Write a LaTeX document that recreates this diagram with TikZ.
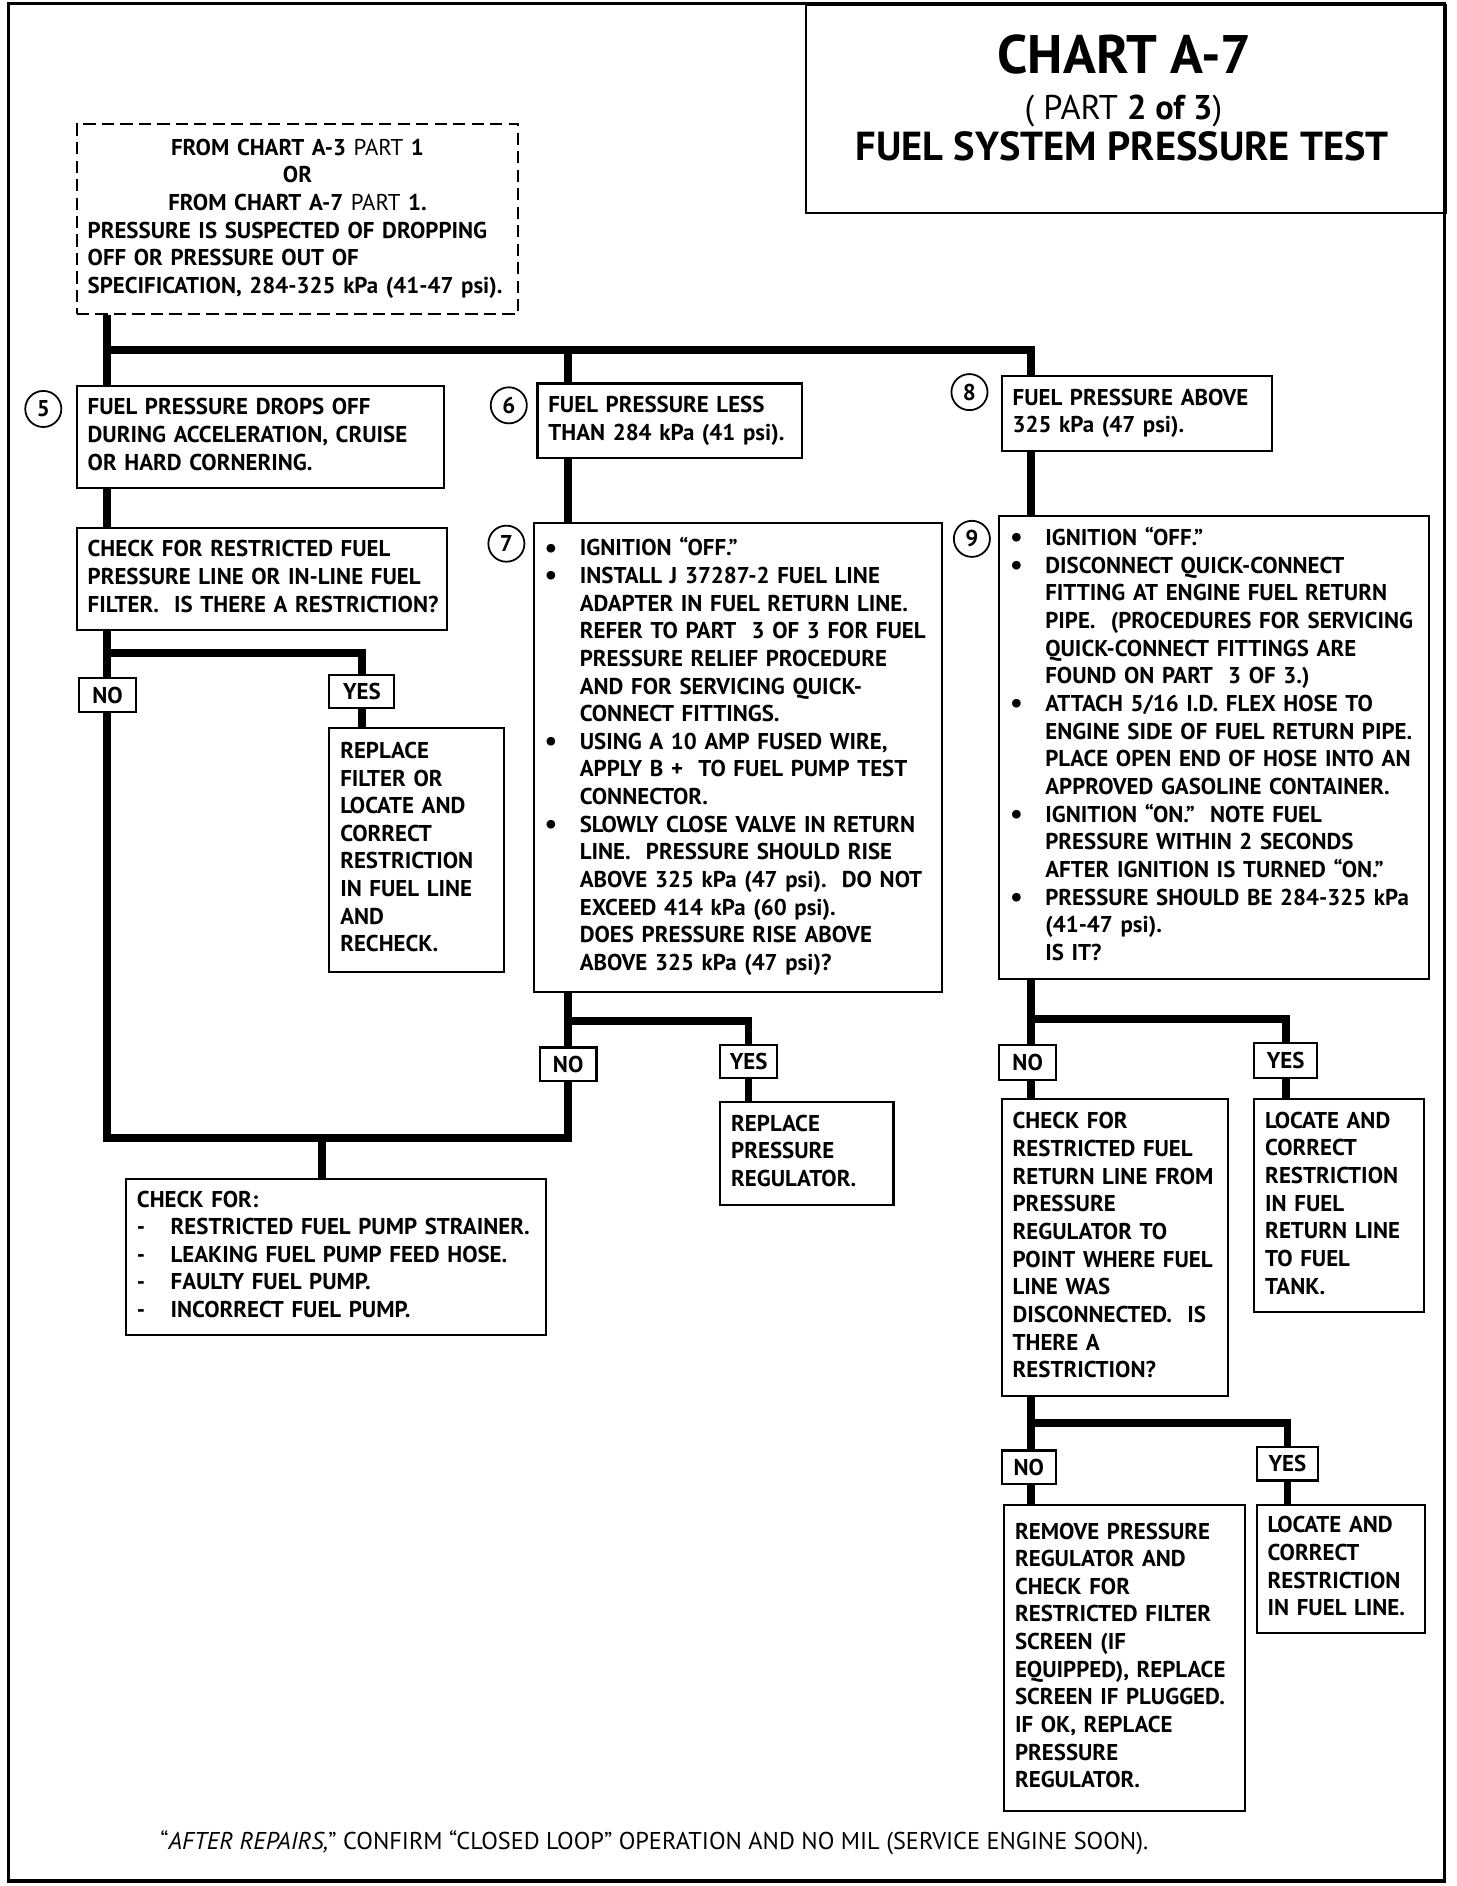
\documentclass[tikz,border=0pt]{standalone}
\usepackage{fontspec}
\setmainfont{PT Sans}

\newcommand{\boxfont}{\fontsize{13}{15.7}\selectfont\bfseries}
\newcommand{\boxlines}[1]{\begin{tabular}{@{}l@{}}#1\end{tabular}}
\newcommand{\bul}{\makebox[0.7cm][l]{\raisebox{-0.8pt}{\fontsize{16}{0}\selectfont •}}}
\newcommand{\bgap}{\hspace*{0.7cm}}
\newcommand{\dsh}{\makebox[0.672cm][l]{-}}

\begin{document}
\begin{tikzpicture}[
  x=0.024cm, y=-0.024cm,
  box/.style={draw, line width=1.2pt, anchor=north west, inner xsep=0.216cm, inner ysep=0pt, align=left, font=\boxfont},
  startbox/.style={box, dash pattern=on 7pt off 3.5pt},
  ans/.style={draw, line width=1.2pt, anchor=north west, inner sep=0pt, minimum width=1.128cm, minimum height=0.672cm, font=\boxfont},
  num/.style={draw, circle, line width=1pt, minimum size=0.72cm, inner sep=0pt, font=\boxfont},
  flow/.style={line width=4.4pt, line join=miter}
]
  \useasboundingbox (0,0) rectangle (1211,1568);
  \draw[line width=2pt] (7,3) rectangle (1201,1564);

  \node[draw, line width=1.2pt, anchor=north west, inner sep=0pt, minimum width=12.768cm, minimum height=4.152cm] (titlebox) at (669,3) {};
  \node[font=\fontsize{30.8}{32}\selectfont\bfseries] (t1) at (935,45) {CHART A-7};
  \node[font=\fontsize{19.5}{22}\selectfont] (t2) at (934,92) {( PART \textbf{2 of 3})};
  \node[font=\fontsize{23}{25}\selectfont\bfseries] (t3) at (933,122) {FUEL SYSTEM PRESSURE TEST};

  \node[startbox, text width=8.376cm, minimum height=3.792cm] (start) at (63,102) {\boxlines{
    \makebox[\linewidth]{FROM CHART A-3 {\mdseries PART} 1}\\
    \makebox[\linewidth]{OR}\\
    \makebox[\linewidth]{FROM CHART A-7 {\mdseries PART} 1.}\\
    PRESSURE IS SUSPECTED OF DROPPING\\
    OFF OR PRESSURE OUT OF\\
    SPECIFICATION, 284-325 kPa (41-47 psi).}};

  \node[box, text width=6.888cm, minimum height=2.04cm] (p5) at (63,320) {\boxlines{
    FUEL PRESSURE DROPS OFF\\
    DURING ACCELERATION, CRUISE\\
    OR HARD CORNERING.}};
  \node[num] (n5) at (36,340) {5};
  \node[box, text width=6.96cm, minimum height=2.04cm] (chk1) at (63,438) {\boxlines{
    CHECK FOR RESTRICTED FUEL\\
    PRESSURE LINE OR IN-LINE FUEL\\
    FILTER.\ \ IS THERE A RESTRICTION?}};
  \node[ans] (no1) at (65,563) {NO};
  \node[ans, minimum width=1.296cm] (yes1) at (273,560) {YES};
  \node[box, text width=3.048cm, minimum height=4.872cm] (repl1) at (273,604) {\boxlines{
    REPLACE\\ FILTER OR\\ LOCATE AND\\ CORRECT\\ RESTRICTION\\ IN FUEL LINE\\ AND\\ RECHECK.}};

  \node[box, text width=4.848cm, minimum height=1.488cm] (p6) at (446,318) {\boxlines{
    FUEL PRESSURE LESS\\
    THAN 284 kPa (41 psi).}};
  \node[num] (n6) at (423,337) {6};
  \node[box, text width=7.704cm, minimum height=9.36cm] (p7) at (443,434) {\boxlines{
    \bul IGNITION “OFF.”\\
    \bul INSTALL J 37287-2 FUEL LINE\\
    \bgap ADAPTER IN FUEL RETURN LINE.\\
    \bgap REFER TO PART\ \ 3 OF 3 FOR FUEL\\
    \bgap PRESSURE RELIEF PROCEDURE\\
    \bgap AND FOR SERVICING QUICK-\\
    \bgap CONNECT FITTINGS.\\
    \bul USING A 10 AMP FUSED WIRE,\\
    \bgap APPLY B +\ \ TO FUEL PUMP TEST\\
    \bgap CONNECTOR.\\
    \bul SLOWLY CLOSE VALVE IN RETURN\\
    \bgap LINE.\ \ PRESSURE SHOULD RISE\\
    \bgap ABOVE 325 kPa (47 psi).\ \ DO NOT\\
    \bgap EXCEED 414 kPa (60 psi).\\
    \bgap DOES PRESSURE RISE ABOVE\\
    \bgap ABOVE 325 kPa (47 psi)?}};
  \node[num] (n7) at (421,452) {7};
  \node[ans] (no2) at (448,870) {NO};
  \node[ans, minimum height=0.648cm] (yes2) at (598,868) {YES};
  \node[box, text width=3.024cm, minimum height=2.064cm] (repl2) at (598,915) {\boxlines{
    REPLACE\\ PRESSURE\\ REGULATOR.}};
  \node[box, text width=7.944cm, minimum height=3.12cm] (chkfor) at (104,979) {\boxlines{
    CHECK FOR:\\
    \dsh RESTRICTED FUEL PUMP STRAINER.\\
    \dsh LEAKING FUEL PUMP FEED HOSE.\\
    \dsh FAULTY FUEL PUMP.\\
    \dsh INCORRECT FUEL PUMP.}};

  \node[box, text width=4.968cm, minimum height=1.488cm] (p8) at (832,312) {\boxlines{
    FUEL PRESSURE ABOVE\\
    325 kPa (47 psi).}};
  \node[num] (n8) at (806,326) {8};
  \node[box, text width=8.136cm, minimum height=9.24cm] (p9) at (830,428) {\boxlines{
    \bul IGNITION “OFF.”\\
    \bul DISCONNECT QUICK-CONNECT\\
    \bgap FITTING AT ENGINE FUEL RETURN\\
    \bgap PIPE.\ \ (PROCEDURES FOR SERVICING\\
    \bgap QUICK-CONNECT FITTINGS ARE\\
    \bgap FOUND ON PART\ \ 3 OF 3.)\\
    \bul ATTACH 5/16 I.D. FLEX HOSE TO\\
    \bgap ENGINE SIDE OF FUEL RETURN PIPE.\\
    \bgap PLACE OPEN END OF HOSE INTO AN\\
    \bgap APPROVED GASOLINE CONTAINER.\\
    \bul IGNITION “ON.”\ \ NOTE FUEL\\
    \bgap PRESSURE WITHIN 2 SECONDS\\
    \bgap AFTER IGNITION IS TURNED “ON.”\\
    \bul PRESSURE SHOULD BE 284-325 kPa\\
    \bgap (41-47 psi).\\
    \bgap IS IT?}};
  \node[num] (n9) at (808,448) {9};
  \node[ans, minimum height=0.696cm] (no3) at (830,868) {NO};
  \node[ans, minimum width=1.248cm, minimum height=0.696cm] (yes3) at (1042,866) {YES};
  \node[box, text width=4.08cm, minimum height=5.928cm] (chk3) at (832,913) {\boxlines{
    CHECK FOR\\ RESTRICTED FUEL\\ RETURN LINE FROM\\ PRESSURE\\ REGULATOR TO\\
    POINT WHERE FUEL\\ LINE WAS\\ DISCONNECTED.\ \ IS\\ THERE A\\ RESTRICTION?}};
  \node[box, text width=2.952cm, minimum height=4.248cm] (loc3) at (1042,913) {\boxlines{
    LOCATE AND\\ CORRECT\\ RESTRICTION\\ IN FUEL\\ RETURN LINE\\ TO FUEL\\ TANK.}};
  \node[ans, minimum width=1.08cm] (no4) at (832,1205) {NO};
  \node[ans, minimum width=1.224cm] (yes4) at (1044,1202) {YES};
  \node[box, text width=4.368cm, minimum height=6.12cm] (rem) at (834,1250) {\boxlines{
    REMOVE PRESSURE\\ REGULATOR AND\\ CHECK FOR\\ RESTRICTED FILTER\\ SCREEN (IF\\
    EQUIPPED), REPLACE\\ SCREEN IF PLUGGED.\\ IF OK, REPLACE\\ PRESSURE\\ REGULATOR.}};
  \node[box, text width=2.928cm, minimum height=2.568cm] (loc4) at (1044,1250) {\boxlines{
    LOCATE AND\\ CORRECT\\ RESTRICTION\\ IN FUEL LINE.}};

  \node[font=\fontsize{13.8}{15}\selectfont] (foot) at (544,1532) {“\textit{AFTER REPAIRS,}” CONFIRM “CLOSED LOOP” OPERATION AND NO MIL (SERVICE ENGINE SOON).};

  \coordinate (jA) at (89,291);
  \coordinate (jB) at (89,543);
  \coordinate (jC) at (268,946);
  \coordinate (jD) at (472,849);
  \coordinate (jE) at (857,847);
  \coordinate (jF) at (857,1183);

  \draw[flow] (start.south -| jA) -- (p5.north -| jA);
  \draw[flow] (jA) -| (p6.north -| jD);
  \draw[flow] (jA) -| (p8.north -| jE);
  \draw[flow] (p5.south -| jA) -- (chk1.north -| jA);
  \draw[flow] (chk1.south -| jA) -- (no1.north -| jA);
  \draw[flow] (jB) -| (yes1.north);
  \draw[flow] (yes1.south) -- (repl1.north -| yes1.south);
  \draw[flow] (no1.south -| jA) |- (jC) -| (no2.south -| jD);
  \draw[flow] (jC) -- (chkfor.north -| jC);
  \draw[flow] (p6.south -| jD) -- (p7.north -| jD);
  \draw[flow] (p7.south -| jD) -- (no2.north -| jD);
  \draw[flow] (jD) -| (yes2.north);
  \draw[flow] (yes2.south) -- (repl2.north -| yes2.south);
  \draw[flow] (p8.south -| jE) -- (p9.north -| jE);
  \draw[flow] (p9.south -| jE) -- (no3.north -| jE);
  \draw[flow] (jE) -| (yes3.north);
  \draw[flow] (yes3.south) -- (loc3.north -| yes3.south);
  \draw[flow] (no3.south -| jE) -- (chk3.north -| jE);
  \draw[flow] (chk3.south -| jE) -- (no4.north -| jE);
  \draw[flow] (jF) -| (yes4.north);
  \draw[flow] (yes4.south) -- (loc4.north -| yes4.south);
  \draw[flow] (no4.south -| jE) -- (rem.north -| jE);
\end{tikzpicture}
\end{document}
